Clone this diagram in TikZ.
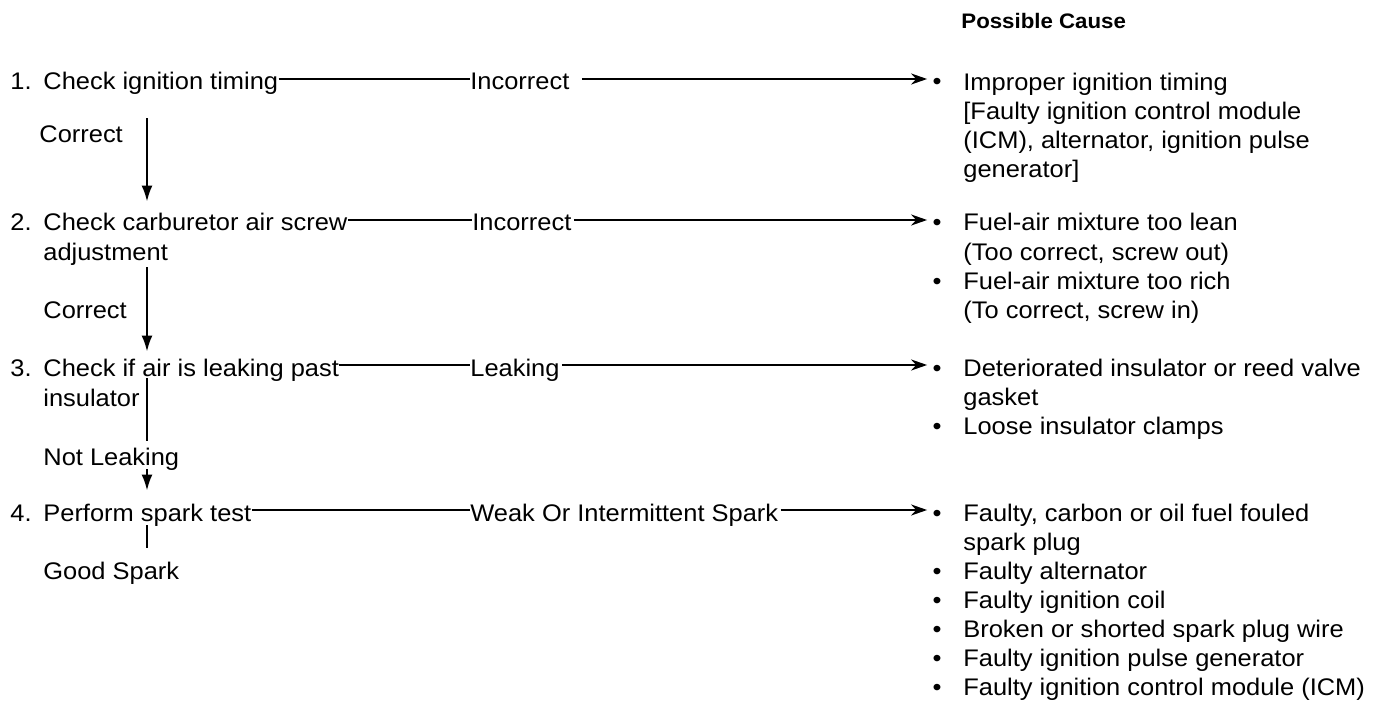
\documentclass[tikz,border=0pt]{standalone}
\usepackage{fontspec}
\setmainfont{Liberation Sans}[FakeStretch=1.06]
\usetikzlibrary{arrows.meta}

\newcommand{\stepnum}[1]{\makebox[16.5pt][l]{#1.}}

\begin{document}
\begin{tikzpicture}[x=0.5pt, y=-0.5pt,
	every node/.style={font=\fontsize{12pt}{14.5pt}\selectfont, inner sep=0pt},
	lbl/.style={anchor=base west, text height=12pt, text depth=1pt},
	dot/.style={anchor=base, text height=12pt, text depth=1pt},
	cause/.style={anchor=base west, align=left},
	flow/.style={line width=1.1pt},
	godown/.style={flow, -{Latex[length=8pt, width=5.5pt]}},
	gocause/.style={flow, -{Stealth[length=8pt, width=5.5pt, inset=2.5pt]}, shorten >=2.5pt}]
	\useasboundingbox (0,0) rectangle (1383,706);
	\node[anchor=base west, font=\fontsize{10.5pt}{12pt}\selectfont\bfseries] (head) at (961,29) {Possible Cause};
	% checks, left column
	\node[lbl] (s1) at (10,90) {\stepnum{1}Check ignition timing};
	\node[lbl] (s2) at (10,231) {\stepnum{2}Check carburetor air screw};
	\node[lbl] (s2b) at (43,260) {adjustment};
	\node[lbl] (s3) at (10,376) {\stepnum{3}Check if air is leaking past};
	\node[lbl] (s3b) at (43,406) {insulator};
	\node[lbl] (s4) at (10,521) {\stepnum{4}Perform spark test};
	\node[lbl] (a1) at (39,143) {Correct};
	\node[lbl] (a2) at (43,318) {Correct};
	\node[lbl] (a3) at (43,465) {Not Leaking};
	\node[lbl] (a4) at (43,579) {Good Spark};
	% results
	\node[lbl] (r1) at (470,90) {Incorrect};
	\node[lbl] (r2) at (472,231) {Incorrect};
	\node[lbl] (r3) at (470,376) {Leaking};
	\node[lbl] (r4) at (470,521) {Weak Or Intermittent Spark};
	% possible causes (base = last line)
	\node[dot] (b1) at (937,90) {\textbullet};
	\node[cause] (c1) at (963,177) {Improper ignition timing\\ {[}Faulty ignition control module\\ (ICM), alternator, ignition pulse\\ generator]};
	\node[dot] (b2) at (937,231) {\textbullet};
	\node[cause] (c2) at (963,260) {Fuel-air mixture too lean\\ (Too correct, screw out)};
	\node[dot] (b2b) at (937,289) {\textbullet};
	\node[cause] (c2b) at (963,318) {Fuel-air mixture too rich\\ (To correct, screw in)};
	\node[dot] (b3) at (937,376) {\textbullet};
	\node[cause] (c3) at (963,405) {Deteriorated insulator or reed valve\\ gasket};
	\node[dot] (b3b) at (937,434) {\textbullet};
	\node[cause] (c3b) at (963,434) {Loose insulator clamps};
	\node[dot] (b4) at (937,521) {\textbullet};
	\node[cause] (c4) at (963,550) {Faulty, carbon or oil fuel fouled\\ spark plug};
	\node[dot] (b4b) at (937,579) {\textbullet};
	\node[cause] (c4b) at (963,579) {Faulty alternator};
	\node[dot] (b4c) at (937,608) {\textbullet};
	\node[cause] (c4c) at (963,608) {Faulty ignition coil};
	\node[dot] (b4d) at (937,637) {\textbullet};
	\node[cause] (c4d) at (963,637) {Broken or shorted spark plug wire};
	\node[dot] (b4e) at (937,666) {\textbullet};
	\node[cause] (c4e) at (963,666) {Faulty ignition pulse generator};
	\node[dot] (b4f) at (937,695) {\textbullet};
	\node[cause] (c4f) at (963,695) {Faulty ignition control module (ICM)};
	% horizontal connectors
	\draw[flow] (s1.east) -- (r1.west);
	\draw[gocause, shorten <=6pt] (r1.east) -- (b1.west);
	\draw[flow] (s2.east) -- (r2.west);
	\draw[gocause, shorten <=1pt] (r2.east) -- (b2.west);
	\draw[flow] (s3.east) -- (r3.west);
	\draw[gocause, shorten <=1pt] (r3.east) -- (b3.west);
	\draw[flow] (s4.east) -- (r4.west);
	\draw[gocause, shorten <=1pt] (r4.east) -- (b4.west);
	% vertical connectors
	\coordinate (spine) at (147,0);
	\draw[godown, shorten <=13pt, shorten >=2.5pt] (s1.south -| spine) -- (s2.north -| spine);
	\draw[godown, shorten <=2.5pt] (s2b.south -| spine) -- (s3.north -| spine);
	\draw[flow] (s3.south -| spine) -- (a3.north -| spine);
	\draw[godown, shorten <=1pt, shorten >=3pt] (a3.south -| spine) -- (s4.north -| spine);
	\draw[flow, shorten <=1pt, shorten >=3.5pt] (s4.south -| spine) -- (a4.north -| spine);
\end{tikzpicture}
\end{document}
